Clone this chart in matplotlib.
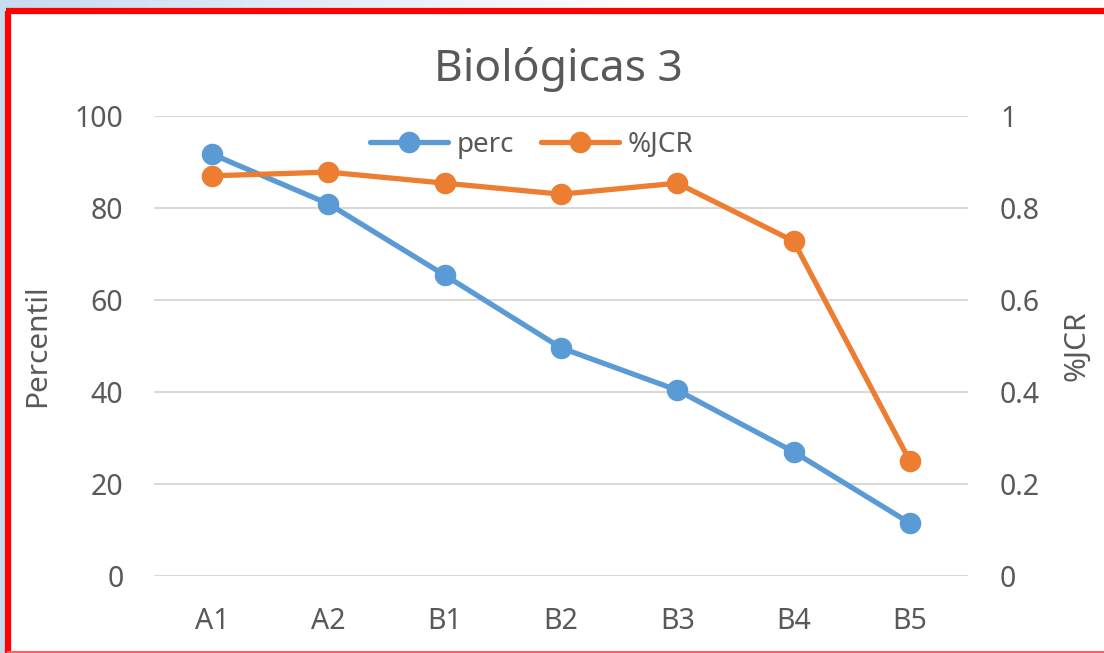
import matplotlib
matplotlib.use('Agg')
import matplotlib.pyplot as plt
import numpy as np
from matplotlib.patches import Rectangle

plt.rcParams['font.family'] = ['Noto Sans', 'DejaVu Sans']

# datos
categorias = ['A1', 'A2', 'B1', 'B2', 'B3', 'B4', 'B5']
perc = [91.7, 80.9, 65.4, 49.6, 40.4, 27.0, 11.5]
jcr = [0.870, 0.878, 0.854, 0.830, 0.854, 0.728, 0.250]
ticks_izq = [0, 20, 40, 60, 80, 100]
ticks_der = [0, 0.2, 0.4, 0.6, 0.8, 1.0]
etiquetas_der = ['0', '0.2', '0.4', '0.6', '0.8', '1']

AZUL = '#5B9BD5'
NARANJA = '#ED7D31'
GRIS = '#595959'
REJILLA = '#D9D9D9'

W, H = 1104, 653
fig = plt.figure(figsize=(W / 100, H / 100), dpi=100)
fig.patch.set_facecolor('white')

# fondo: franja azulada arriba e izquierda, fuera del marco rojo
bg = fig.add_axes([0, 0, 1, 1])
bg.set_xlim(0, W)
bg.set_ylim(H, 0)
bg.axis('off')
grad = np.linspace(0, 1, 256)[None, :]
bg.imshow(grad, extent=[0, W * 0.6, 8, 0], cmap=matplotlib.colors.LinearSegmentedColormap.from_list(
    'g', ['#C6DBF0', '#FFFFFF']), aspect='auto', zorder=0)
bg.add_patch(Rectangle((0, 0), 6, H, facecolor='#C6DBF0', edgecolor='none', zorder=1))
bg.add_patch(Rectangle((6, 8), W, H, facecolor='white', edgecolor='none', zorder=2))
# marco rojo: grueso arriba e izquierda, fino abajo
bg.plot([8, 8], [11, H], color='#FF0000', linewidth=4.5, zorder=3, solid_capstyle='butt')
bg.plot([6, W], [11, 11], color='#FF0000', linewidth=4.5, zorder=3, solid_capstyle='butt')
bg.plot([8, W], [651.5, 651.5], color='#FF6060', linewidth=1.5, zorder=3)

ax = fig.add_axes([154 / W, 1 - 576 / H, (968 - 154) / W, (576 - 116) / H])
ax.set_facecolor('none')
x = np.arange(len(categorias))

ax.plot(x, perc, color=AZUL, linewidth=3.8, marker='o', markersize=14.5,
        label='perc', zorder=3, solid_capstyle='round')
ax.set_xlim(-0.5, len(categorias) - 0.5)
ax.set_ylim(0, 100)
ax.set_yticks(ticks_izq)
ax.set_xticks(x)
ax.set_xticklabels(categorias)
ax.grid(True, axis='y', color=REJILLA, linewidth=1.5)
ax.set_axisbelow(True)
for s in ax.spines.values():
    s.set_visible(False)
ax.tick_params(axis='both', length=0, labelsize=20.5, labelcolor=GRIS)
ax.tick_params(axis='y', pad=22)
ax.tick_params(axis='x', pad=22)
ax.set_ylabel('Percentil', fontsize=21.5, color=GRIS, labelpad=16)

ax2 = ax.twinx()
ax2.plot(x, jcr, color=NARANJA, linewidth=3.8, marker='o', markersize=14.5,
         label='%JCR', zorder=3, solid_capstyle='round')
ax2.set_ylim(0, 1)
ax2.set_yticks(ticks_der)
ax2.set_yticklabels(etiquetas_der)
for s in ax2.spines.values():
    s.set_visible(False)
ax2.tick_params(axis='y', length=0, labelsize=20.5, labelcolor=GRIS, pad=23)
ax2.set_ylabel('%JCR', fontsize=21.5, color=GRIS, labelpad=16)

h1, l1 = ax.get_legend_handles_labels()
h2, l2 = ax2.get_legend_handles_labels()
leg = ax2.legend(h1 + h2, l1 + l2, loc='center', bbox_to_anchor=(0.464, 0.937),
                 ncol=2, frameon=False, fontsize=20, handlelength=2.8,
                 columnspacing=1.0, handletextpad=0.3)
for t in leg.get_texts():
    t.set_color(GRIS)

fig.text(558 / W, 1 - 70 / H, 'Biológicas 3', ha='center', va='center',
         fontsize=32, color=GRIS)

fig.savefig('out.png', dpi=100)
